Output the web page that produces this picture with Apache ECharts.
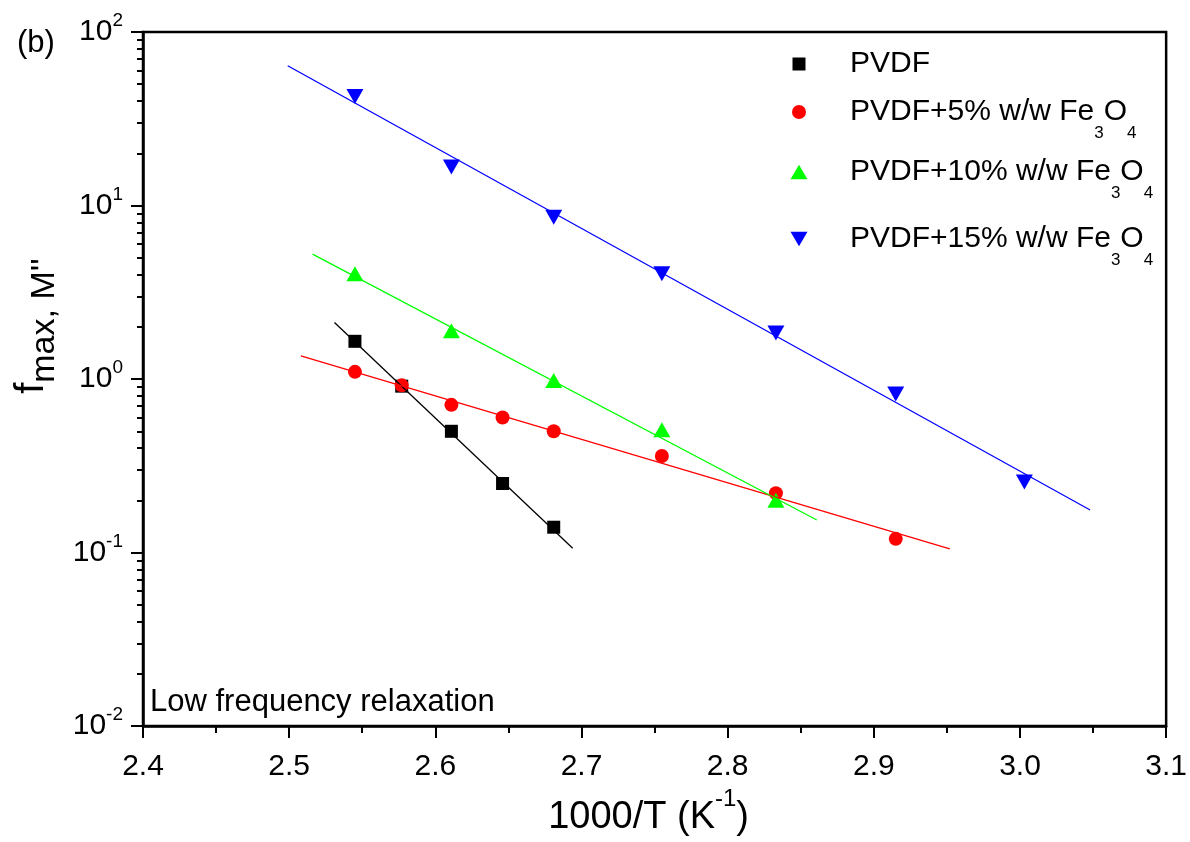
<!DOCTYPE html>
<html><head><meta charset="utf-8">
<script src="https://cdn.jsdelivr.net/npm/echarts@6/dist/echarts.min.js"></script>
<style>html,body{margin:0;padding:0;background:#fff}#c{width:1190px;height:842px}</style>
</head><body><div id="c"></div>
<script>
// ---------- data ----------
const names = ['PVDF', 'PVDF+5% w/w Fe3O4', 'PVDF+10% w/w Fe3O4', 'PVDF+15% w/w Fe3O4'];

const xPVDF = [2.545, 2.577, 2.611, 2.646, 2.681];
const yPVDF = [1.65, 0.91, 0.50, 0.25, 0.14];

const x5 = [2.545, 2.577, 2.611, 2.646, 2.681, 2.755, 2.833, 2.915];
const y5 = [1.10, 0.92, 0.71, 0.60, 0.50, 0.36, 0.22, 0.12];

const x10 = [2.545, 2.611, 2.681, 2.755, 2.833];
const y10 = [4.05, 1.90, 0.98, 0.51, 0.20];

const x15 = [2.545, 2.611, 2.681, 2.755, 2.833, 2.915, 3.003];
const y15 = [42.5, 16.7, 8.57, 4.05, 1.84, 0.82, 0.255];

// Arrhenius fit lines: endpoints [x, y]
const fitPVDF = [[2.531, 2.12], [2.694, 0.106]];
const fit5 = [[2.508, 1.36], [2.952, 0.105]];
const fit10 = [[2.516, 5.25], [2.861, 0.154]];
const fit15 = [[2.499, 63.9], [3.048, 0.176]];

const xTickLabels = ['2.4', '2.5', '2.6', '2.7', '2.8', '2.9', '3.0', '3.1'];
const yDecades = [0.01, 0.1, 1, 10, 100];
const yExponents = ['-2', '-1', '0', '1', '2'];
const minorMultipliers = [2, 3, 4, 5, 6, 7, 8, 9];

// ---------- helpers ----------
const FONT = 'Liberation Sans, Arial, sans-serif';
const zip = (xs, ys) => xs.map((x, i) => [x, ys[i]]);
const minorTicks = [];
yDecades.slice(0, -1).forEach(d => minorMultipliers.forEach(m => minorTicks.push(+(d * m).toPrecision(3))));
const downTri = 'path://M0,0 L20,0 L10,17 Z';
const upTri = 'path://M10,0 L20,17 L0,17 Z';
const colors = ['#000000', '#ff0000', '#00ff00', '#0000ff'];

function legendLabel(name) {
  if (name.endsWith('Fe3O4')) {
    return '{a|' + name.slice(0, -3) + '}{s|3}{a|O}{s|4}';
  }
  return '{a|' + name + '}';
}
function makeLegend(name, icon, w, h, top) {
  return {
    data: [{ name: name, icon: icon }],
    left: 794 - w / 2,
    top: top,
    itemWidth: w, itemHeight: h,
    formatter: legendLabel,
    textStyle: {
      padding: [0, 0, 0, 51 - w / 2 - 5],
      rich: {
        a: { fontFamily: FONT, fontSize: 30, color: '#000' },
        s: { fontFamily: FONT, fontSize: 17, color: '#000', padding: [42, 0, 0, 0] }
      }
    }
  };
}

const chart = echarts.init(document.getElementById('c'), null, { renderer: 'canvas' });
const option = {
  animation: false,
  backgroundColor: '#fff',
  grid: { left: 143, right: 22, top: 32, bottom: 109, show: true, borderColor: '#000', borderWidth: 2.5, containLabel: false },
  legend: [
    makeLegend(names[0], 'rect', 13, 13, 44),
    makeLegend(names[1], 'circle', 14, 14, 92),
    makeLegend(names[2], upTri, 17, 15, 152),
    makeLegend(names[3], downTri, 17, 15, 219)
  ],
  xAxis: {
    type: 'value', min: 2.4, max: 3.1, interval: 0.1,
    axisLine: { lineStyle: { color: '#000', width: 2.5 } },
    axisTick: { length: 12, lineStyle: { color: '#000', width: 2 } },
    minorTick: { show: true, splitNumber: 2, length: 7, lineStyle: { color: '#000', width: 2 } },
    splitLine: { show: false },
    axisLabel: {
      margin: 26, fontFamily: FONT, fontSize: 30, color: '#000',
      formatter: v => xTickLabels[Math.round((v - 2.4) * 10)]
    },
    name: '1000/T (K{sup|-1})',
    nameLocation: 'middle', nameGap: 60,
    nameTextStyle: {
      fontFamily: FONT, fontSize: 38, color: '#000', padding: [0, 12, 0, 0],
      rich: { sup: { fontFamily: FONT, fontSize: 24, color: '#000', padding: [0, 0, 38, 0] } }
    }
  },
  yAxis: [{
    type: 'log', logBase: 10, min: 0.01, max: 100,
    axisLine: { show: true, lineStyle: { color: '#000', width: 2.5 } },
    axisTick: { show: true, length: 12, lineStyle: { color: '#000', width: 2 } },
    splitLine: { show: false },
    axisLabel: {
      margin: 20, fontFamily: FONT, fontSize: 30, color: '#000',
      formatter: v => {
        const i = yDecades.findIndex(d => Math.abs(Math.log10(d) - Math.log10(v)) < 1e-6);
        return '{b|10}{e|' + (i >= 0 ? yExponents[i] : '') + '}';
      },
      rich: {
        b: { fontFamily: FONT, fontSize: 30, color: '#000' },
        e: { fontFamily: FONT, fontSize: 19, color: '#000', padding: [0, 0, 22, 0] }
      }
    },
    name: '{f|f}{s|max, M\'\'}',
    nameLocation: 'middle', nameGap: 80, nameRotate: 90,
    nameTextStyle: {
      padding: [0, 0, 0, 106],
      rich: {
        f: { fontFamily: FONT, fontSize: 40, color: '#000' },
        s: { fontFamily: FONT, fontSize: 34, color: '#000', padding: [26, 0, 0, 0] }
      }
    }
  }, {
    type: 'log', logBase: 10, min: 0.01, max: 100, position: 'left',
    axisLine: { show: false },
    axisLabel: { show: false },
    splitLine: { show: false },
    axisTick: { show: true, length: 6, customValues: minorTicks, lineStyle: { color: '#000', width: 2 } }
  }],
  graphic: [
    { type: 'text', left: 17, top: 28, style: { text: '(b)', fontFamily: FONT, fontSize: 31, fill: '#000' } },
    { type: 'text', left: 150, top: 687, style: { text: 'Low frequency relaxation', fontFamily: FONT, fontSize: 31, fill: '#000' } }
  ],
  series: [
    { name: 'fit PVDF', type: 'line', data: fitPVDF, showSymbol: false, lineStyle: { color: colors[0], width: 1.3 }, silent: true },
    { name: 'fit 5', type: 'line', data: fit5, showSymbol: false, lineStyle: { color: colors[1], width: 1.3 }, silent: true },
    { name: 'fit 10', type: 'line', data: fit10, showSymbol: false, lineStyle: { color: colors[2], width: 1.3 }, silent: true },
    { name: 'fit 15', type: 'line', data: fit15, showSymbol: false, lineStyle: { color: colors[3], width: 1.3 }, silent: true },
    { name: names[0], type: 'scatter', data: zip(xPVDF, yPVDF), symbol: 'rect', symbolSize: 13, itemStyle: { color: colors[0], opacity: 1 } },
    { name: names[1], type: 'scatter', data: zip(x5, y5), symbol: 'circle', symbolSize: 14, itemStyle: { color: colors[1], opacity: 1 } },
    { name: names[2], type: 'scatter', data: zip(x10, y10), symbol: upTri, symbolSize: [17, 15], itemStyle: { color: colors[2], opacity: 1 } },
    { name: names[3], type: 'scatter', data: zip(x15, y15), symbol: downTri, symbolSize: [17, 15], itemStyle: { color: colors[3], opacity: 1 } }
  ]
};
chart.setOption(option);
</script>
</body></html>
